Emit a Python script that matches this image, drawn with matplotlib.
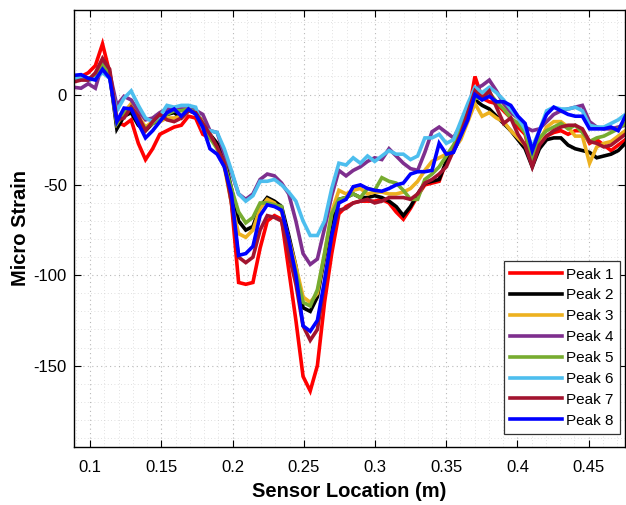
import numpy as np
import matplotlib
matplotlib.use("Agg")
import matplotlib.pyplot as plt
from matplotlib.ticker import MultipleLocator

plt.rcParams['font.family'] = ['Liberation Sans', 'DejaVu Sans']
plt.rcParams['axes.unicode_minus'] = False

# sensor positions along the bar (m)
x = np.linspace(0.0885, 0.4758, 78)

peak1 = [9, 10, 12, 16, 28, 12, -15, -17, -14, -27, -36, -30, -22, -20, -18, -17, -12, -13, -22, -24,
         -28, -33, -60, -104, -105, -104, -85, -70, -67, -69, -97, -125, -156, -164, -150, -115, -88, -66, -62, -60,
         -59, -59, -59, -58, -60, -65, -69, -63, -56, -50, -49, -48, -37, -31, -24, -12, 10, -2, -4, -5,
         -9, -13, -18, -22, -38, -27, -23, -21, -20, -22, -20, -20, -27, -25, -28, -31, -28, -25]
peak2 = [8, 9, 8, 9, 15, 11, -19, -12, -10, -17, -20, -16, -14, -11, -10, -13, -9, -10, -15, -22,
         -27, -35, -52, -70, -75, -73, -62, -57, -59, -62, -78, -95, -118, -120, -112, -90, -70, -58, -57, -55,
         -57, -57, -56, -57, -59, -62, -67, -62, -55, -49, -48, -47, -37, -31, -24, -13, -3, -6, -8, -12,
         -16, -20, -25, -30, -40, -30, -25, -24, -24, -28, -30, -31, -32, -35, -34, -33, -31, -27]
peak3 = [8, 9, 9, 10, 15, 10, -16, -10, -5, -12, -18, -15, -15, -13, -13, -12, -8, -10, -15, -22,
         -30, -40, -60, -77, -79, -75, -63, -58, -60, -65, -80, -95, -112, -115, -110, -88, -65, -53, -55, -53,
         -52, -55, -54, -54, -55, -55, -54, -52, -48, -42, -37, -35, -33, -30, -25, -15, -5, -12, -10, -13,
         -15, -20, -24, -28, -36, -26, -18, -15, -15, -18, -23, -23, -38, -29, -27, -26, -23, -20]
peak4 = [4, 3.5, 6, 3.5, 17, 12, -6, -1, -3, -9, -14, -13, -10, -8, -8, -8, -8, -8.7, -11, -20,
         -21, -33, -43, -55, -58, -55, -47, -44, -45, -49, -55, -70, -88, -94, -91, -74, -56, -42, -45, -42,
         -40, -37, -35, -36, -30, -34, -38, -41, -42, -32, -20.6, -18, -21, -24, -17, -7, 3, 5, 8, 2,
         -5, -10, -13, -18, -20, -19, -15, -11, -9, -8, -7, -6, -15, -18, -19, -19, -18, -17]
peak5 = [9, 10, 9, 10, 16, 11, -16, -10, -7, -14, -19, -16, -13, -11, -9, -9, -8, -10, -16, -24,
         -30, -38, -52, -65, -71, -68, -60, -60, -61, -62, -84, -98, -115, -117, -108, -88, -66, -58, -57, -55,
         -57, -52, -53, -46, -48, -49, -53, -58, -58, -47, -44, -40, -34, -28, -20, -10, -2, -2, 1, -4,
         -8, -13, -16, -21, -36, -24, -20, -18, -16, -19, -17, -21, -26, -24, -23, -21, -19, -16]
peak6 = [9, 9, 8, 9, 12, 9, -9, -2, 2, -6, -13, -15, -12, -6, -7, -6, -6, -7, -19, -20,
         -21, -30, -42, -55, -59, -56, -48, -48, -47, -50, -54, -59, -70, -78, -78, -70, -52, -38, -39, -35,
         -38, -34, -37, -34, -31, -33, -33, -36, -34, -24, -24, -22, -27, -25, -15, -5, 4, 1, 4, 1,
         -3, -8, -13, -19, -29, -20, -9, -7, -8, -8, -7, -9, -17, -18, -18, -16, -14, -11]
peak7 = [7, 8, 8, 12, 20, 14, -14, -13, -7, -12, -20, -15, -11, -14, -15, -13, -9, -10, -16, -22,
         -29, -38, -60, -90, -93, -90, -75, -67, -68, -70, -88, -105, -128, -136, -130, -105, -78, -64, -63, -60,
         -59, -58, -60, -59, -57, -57, -57, -58, -55, -49, -47, -44, -40, -31, -22, -10, 2, -2, 2, -7,
         -16, -13, -22, -28, -40, -28, -23, -20, -18, -17, -17, -19, -26, -27, -29, -28, -25, -22]
peak8 = [10.6, 11, 9, 8, 14, 9, -15, -7.5, -8, -16, -24, -20, -15, -10, -8, -12, -8, -11, -18, -30,
         -33, -40, -55, -89, -88, -84, -67, -61, -62, -64, -80, -100, -128, -131, -125, -103, -78, -60, -58, -51,
         -50, -52, -53, -53.5, -52, -50, -49, -44, -42.7, -42.7, -42, -27, -33, -32, -23, -14, 0, -3, -1, -4,
         -4, -6, -12, -16, -31, -20, -11, -7, -9, -11, -12, -12, -19, -19, -19, -18, -20, -12]

series = [peak1, peak2, peak3, peak4, peak5, peak6, peak7, peak8]
labels = ["Peak 1", "Peak 2", "Peak 3", "Peak 4", "Peak 5", "Peak 6", "Peak 7", "Peak 8"]
colors = ["#FF0000", "#000000", "#EDB120", "#7E2F8E", "#77AC30", "#4DBEEE", "#A2142F", "#0000FF"]

fig = plt.figure(figsize=(6.26, 5.05), dpi=100)
ax = fig.add_axes([0.118, 0.115, 0.881, 0.866])

for y, lab, c in zip(series, labels, colors):
    ax.plot(x, y, color=c, lw=2.6, label=lab, solid_joinstyle="miter")

ax.set_xlim(0.0885, 0.4758)
ax.set_ylim(-195, 47)
ax.xaxis.set_major_locator(MultipleLocator(0.05))
ax.xaxis.set_minor_locator(MultipleLocator(0.01))
ax.yaxis.set_major_locator(MultipleLocator(50))
ax.yaxis.set_minor_locator(MultipleLocator(10))
ax.set_xticks(ax.get_xticks())
ax.set_xticklabels(["%g" % round(v, 2) for v in ax.get_xticks()])
ax.set_xlim(0.0885, 0.4758)

ax.grid(which="major", color="#999999", linestyle=(0, (1, 3)), lw=0.8, alpha=0.7)
ax.grid(which="minor", color="#bbbbbb", linestyle=(0, (1, 3)), lw=0.6, alpha=0.6)
ax.set_axisbelow(True)
ax.tick_params(which="major", direction="in", length=5, width=0.8, labelsize=12,
               top=True, right=True, colors="#000000")
ax.tick_params(axis="x", which="major", pad=9.5)
ax.tick_params(axis="y", which="major", pad=5)
ax.tick_params(which="minor", length=0)
for s in ax.spines.values():
    s.set_linewidth(1.0)

ax.set_xlabel("Sensor Location (m)", fontsize=14.5, fontweight="bold", labelpad=5)
ax.set_ylabel("Micro Strain", fontsize=14.5, fontweight="bold", labelpad=3)

leg = ax.legend(loc="lower right", bbox_to_anchor=(0.990, 0.030), borderaxespad=0,
                fontsize=11, labelspacing=0.45, handlelength=3.4, handletextpad=0.3,
                borderpad=0.4, fancybox=False, framealpha=1, edgecolor="#333333")
leg.get_frame().set_linewidth(0.9)

fig.savefig("out.png", dpi=100)
